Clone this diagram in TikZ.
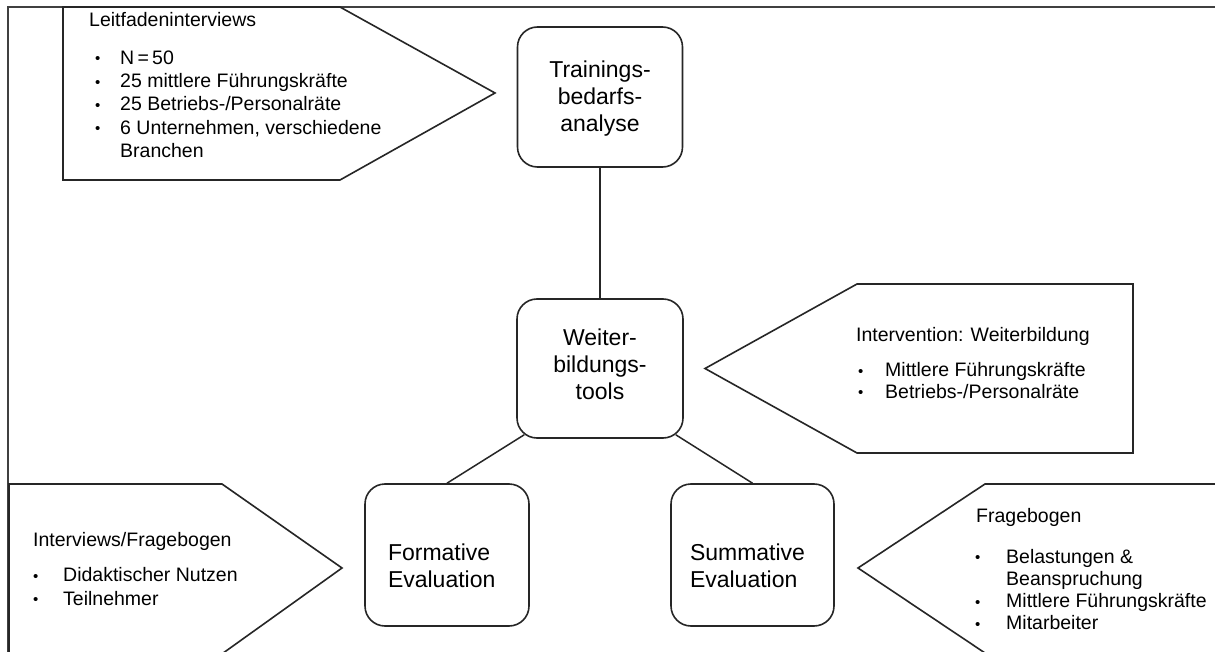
\documentclass[tikz,border=0pt]{standalone}
\usepackage{fontspec}
\setmainfont{Liberation Sans}
\usetikzlibrary{calc}
\newcommand{\bul}{\raisebox{0.5pt}{\fontsize{15}{15}\selectfont •}}
\begin{document}
\begin{tikzpicture}[x=1pt,y=-1pt,
  lw/.style={line width=1.6pt, draw=black!85, line join=miter},
  box/.style={lw, rounded corners=20pt, inner sep=0pt, font=\fontsize{23}{27}\selectfont},
  head/.style={font=\fontsize{19.5}{23.3}\selectfont, inner sep=0pt, anchor=base west},
  lst/.style={inner sep=0pt, anchor=base west},
  frameline/.style={line width=1.6pt, draw=black!75},
  link/.style={line width=1.5pt, draw=black!85}
]
\clip (0,0) rectangle (1215,652);
\fill[white] (0,0) rectangle (1215,652);
% frame
\draw[frameline] (1216,7) -- (8,7) -- (8,660);
% callout shapes
\draw[lw] (63,7) -- (340,7) -- (495,93) -- (340,180) -- (63,180) -- cycle;
\draw[lw] (1133,284) -- (857,284) -- (705,368.5) -- (857,453) -- (1133,453) -- cycle;
\draw[lw] (9,660) -- (9,484) -- (222,484) -- (342,568) -- (219,656);
\draw[lw] (1220,484) -- (985,484) -- (858,568) -- (988,655);
% boxes
\node[box, minimum width=165pt, minimum height=140pt, align=center, text depth=1pt] (tr) at (600,97) {Trainings-\\bedarfs-\\analyse};
\node[box, minimum width=166pt, minimum height=139pt, align=center, text depth=8pt] (we) at (600,368.5) {Weiter-\\bildungs-\\tools};
\node[box, minimum width=164pt, minimum height=142pt, text width=118pt, align=left, text depth=5.5pt] (fo) at (447,555) {Formative\\Evaluation};
\node[box, minimum width=163pt, minimum height=142pt, text width=125pt, align=left, text depth=5.5pt] (su) at (752.5,555) {Summative\\Evaluation};
% connectors
\draw[link] (tr.south) -- (we.north);
\draw[link] (fo.north) -- ($(we.south west)+(8,-4)$);
\draw[link] (su.north) -- ($(we.south east)+(-8,-4)$);
% callout texts
\node[head] (h1) at (89,27) {Leitfadeninterviews};
\node[lst] (l1) at (95,64.3) {\fontsize{19.5}{23.25}\selectfont
  \begin{tabular}[t]{@{}p{25pt}@{}l@{}}
  \bul & N\,=\,50\\
  \bul & 25 mittlere Führungskräfte\\
  \bul & 25 Betriebs-/Personalräte\\
  \bul & 6 Unternehmen, verschiedene\\
       & Branchen
  \end{tabular}};
\node[head] (h2) at (856,341.5) {Intervention: Weiterbildung};
\node[lst] (l2) at (858,376.7) {\fontsize{19.5}{21.7}\selectfont
  \begin{tabular}[t]{@{}p{27pt}@{}l@{}}
  \bul & Mittlere Führungskräfte\\
  \bul & Betriebs-/Personalräte
  \end{tabular}};
\node[head] (h3) at (33,546) {Interviews/Fragebogen};
\node[lst] (l3) at (33,581.7) {\fontsize{19.5}{23.3}\selectfont
  \begin{tabular}[t]{@{}p{30pt}@{}l@{}}
  \bul & Didaktischer Nutzen\\
  \bul & Teilnehmer
  \end{tabular}};
\node[head] (h4) at (976,522) {Fragebogen};
\node[lst] (l4) at (975,563) {\fontsize{19.5}{22.3}\selectfont
  \begin{tabular}[t]{@{}p{31pt}@{}l@{}}
  \bul & Belastungen \&\\
       & Beanspruchung\\
  \bul & Mittlere Führungskräfte\\
  \bul & Mitarbeiter
  \end{tabular}};
\end{tikzpicture}
\end{document}
